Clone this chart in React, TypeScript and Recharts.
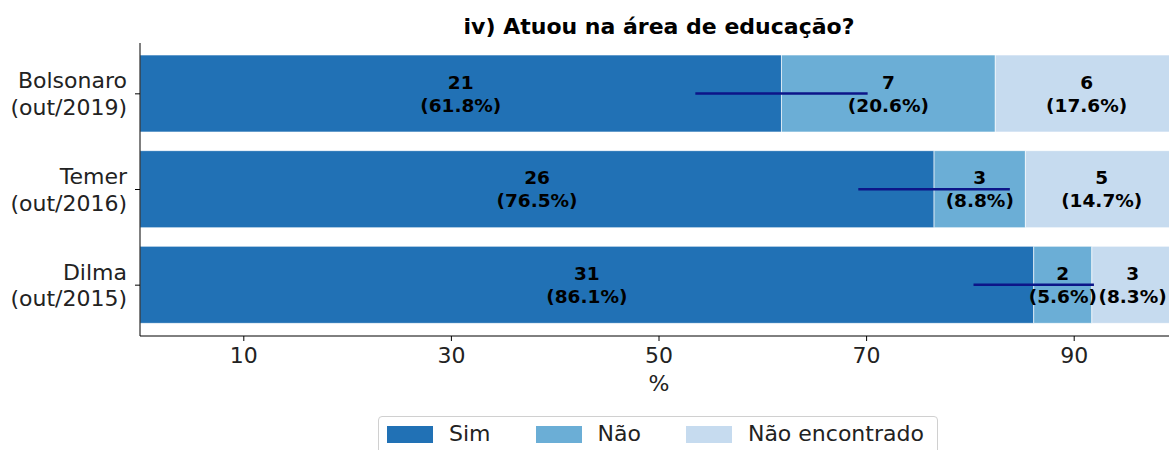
import React from 'react';
import { BarChart, Bar, XAxis, YAxis, ErrorBar, LabelList, Legend } from 'recharts';

const FONT = '"DejaVu Sans", sans-serif';

const categories = ['Bolsonaro\n(out/2019)', 'Temer\n(out/2016)', 'Dilma\n(out/2015)'];
const simCounts = [21, 26, 31];
const simPct = [61.8, 76.5, 86.1];
const simErr = [8.3, 7.3, 5.8];
const naoCounts = [7, 3, 2];
const naoPct = [20.6, 8.8, 5.6];
const neCounts = [6, 5, 3];
const nePct = [17.6, 14.7, 8.3];
const xTicks = [10, 30, 50, 70, 90];
const seriesNames = ['Sim', 'Não', 'Não encontrado'];
const seriesColors = ['#2171b5', '#6baed6', '#c6dbef'];
const title = 'iv) Atuou na área de educação?';

const VISIBLE_RIGHT = 1167;
const LABEL_FS = 18.5;

const data = categories.map((c, i) => ({
  cat: c,
  sim: simPct[i],
  simErr: simErr[i],
  nao: naoPct[i],
  ne: nePct[i],
}));

const YTick = (props: any) => {
  const { x, y, payload } = props;
  const lines = String(payload.value).split('\n');
  return (
    <g>
      <text x={x} y={y - 13} textAnchor="end" dominantBaseline="central" fontFamily={FONT} fontSize={22} fill="#222">
        {lines[0]}
      </text>
      <text x={x} y={y + 13.5} textAnchor="end" dominantBaseline="central" fontFamily={FONT} fontSize={22} fill="#222">
        {lines[1]}
      </text>
    </g>
  );
};

const makeLabel = (counts: number[], pcts: number[]) => (props: any) => {
  const vb = props.viewBox || props;
  const x = Number(vb.x ?? props.x);
  const y = Number(vb.y ?? props.y);
  const w = Number(vb.width ?? props.width);
  const h = Number(vb.height ?? props.height);
  const i = props.index;
  const pctText = `(${pcts[i].toFixed(1)}%)`;
  const halfW = pctText.length * LABEL_FS * 0.31;
  const cx = Math.min(x + w / 2, VISIBLE_RIGHT - halfW);
  const cy = y + h / 2;
  return (
    <g>
      <text x={cx} y={cy - 11.5} textAnchor="middle" dominantBaseline="central" fontFamily={FONT} fontWeight="bold" fontSize={LABEL_FS} fill="#000">
        {counts[i]}
      </text>
      <text x={cx} y={cy + 11.5} textAnchor="middle" dominantBaseline="central" fontFamily={FONT} fontWeight="bold" fontSize={LABEL_FS} fill="#000">
        {pctText}
      </text>
    </g>
  );
};

const renderLegend = () => (
  <div
    style={{
      boxSizing: 'border-box',
      height: 44,
      width: 560,
      border: '1px solid #d0d0d0',
      borderRadius: 4,
      background: '#fff',
      display: 'flex',
      alignItems: 'center',
      paddingLeft: 8,
      fontFamily: FONT,
      fontSize: 22,
      color: '#222',
    }}
  >
    {seriesNames.map((n, i) => (
      <div key={n} style={{ display: 'flex', alignItems: 'center', marginRight: i < 2 ? 45 : 0, marginTop: -8 }}>
        <span style={{ display: 'inline-block', width: 46, height: 17, background: seriesColors[i] }} />
        <span style={{ marginLeft: 16, lineHeight: '24px' }}>{n}</span>
      </div>
    ))}
  </div>
);

export default function App() {
  return (
    <div style={{ position: 'absolute', left: 0, top: 0, width: 1169, height: 450, overflow: 'hidden', background: '#fff' }}>
      <div
        style={{
          position: 'absolute',
          left: 359,
          top: 15,
          width: 600,
          textAlign: 'center',
          fontFamily: FONT,
          fontWeight: 'bold',
          fontSize: 22,
          lineHeight: '24px',
          color: '#000',
          zIndex: 2,
        }}
      >
        {title}
      </div>
      <BarChart
        width={1200}
        height={450}
        data={data}
        layout="vertical"
        margin={{ top: 43, right: 22, left: 0, bottom: 54 }}
      >
        <XAxis
          type="number"
          domain={[0, 100]}
          ticks={xTicks}
          allowDataOverflow
          tickSize={5}
          tickMargin={6}
          height={60}
          axisLine={{ stroke: '#000', strokeWidth: 1 }}
          tickLine={{ stroke: '#000' }}
          tick={{ fontFamily: FONT, fontSize: 22, fill: '#222' }}
          label={{ value: '%', position: 'insideBottom', offset: 5, fontFamily: FONT, fontSize: 22, fill: '#222' }}
        />
        <XAxis
          xAxisId="top"
          orientation="top"
          type="number"
          domain={[0, 100]}
          height={0}
          tick={false}
          tickLine={false}
          axisLine={{ stroke: '#000', strokeWidth: 1 }}
        />
        <YAxis
          type="category"
          dataKey="cat"
          width={140}
          tickSize={5}
          tickMargin={8}
          padding={{ top: 3, bottom: 3 }}
          axisLine={{ stroke: '#000', strokeWidth: 1 }}
          tickLine={{ stroke: '#000' }}
          tick={<YTick />}
        />
        <Legend
          layout="horizontal"
          verticalAlign="middle"
          align="center"
          wrapperStyle={{ left: 378, top: 416, width: 560, height: 44 }}
          content={renderLegend}
        />
        <Bar dataKey="sim" name="Sim" stackId="a" fill={seriesColors[0]} stroke="#ffffff" strokeWidth={0.6} barSize={77} isAnimationActive={false}>
          <LabelList dataKey="sim" content={makeLabel(simCounts, simPct)} />
          <ErrorBar dataKey="simErr" direction="x" width={0} stroke="#0d1588" strokeWidth={2.5} isAnimationActive={false} />
        </Bar>
        <Bar dataKey="nao" name="Não" stackId="a" fill={seriesColors[1]} stroke="#ffffff" strokeWidth={0.6} barSize={77} isAnimationActive={false}>
          <LabelList dataKey="nao" content={makeLabel(naoCounts, naoPct)} />
        </Bar>
        <Bar dataKey="ne" name="Não encontrado" stackId="a" fill={seriesColors[2]} stroke="#ffffff" strokeWidth={0.6} barSize={77} isAnimationActive={false}>
          <LabelList dataKey="ne" content={makeLabel(neCounts, nePct)} />
        </Bar>
      </BarChart>
    </div>
  );
}
